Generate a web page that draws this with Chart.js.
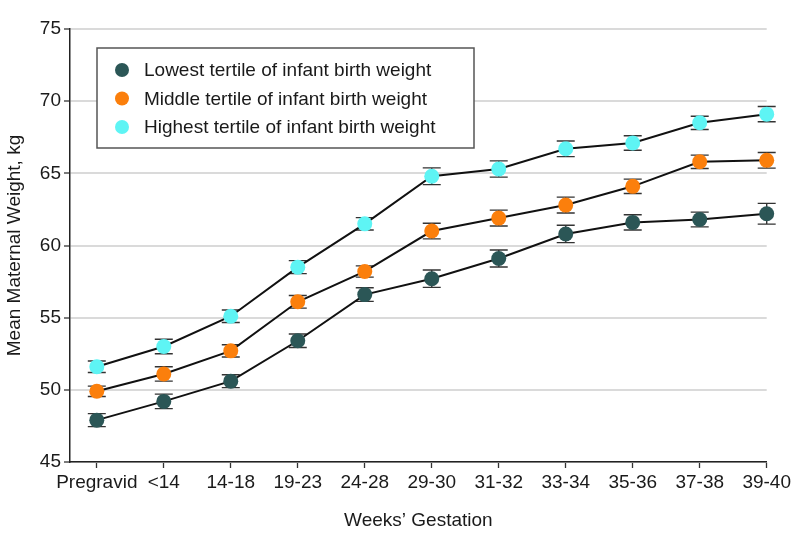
<!DOCTYPE html>
<html>
<head>
<meta charset="utf-8">
<script src="https://cdn.jsdelivr.net/npm/chart.js@4.4.1/dist/chart.umd.min.js"></script>
<style>
  html, body { margin: 0; padding: 0; background: #fff; }
  #wrap { width: 794px; height: 546px; }
</style>
</head>
<body>
<div id="wrap"><canvas id="weightChart" width="794" height="546"></canvas></div>
<script>
// Data
const weekLabels = ["Pregravid", "<14", "14-18", "19-23", "24-28", "29-30", "31-32", "33-34", "35-36", "37-38", "39-40"];
const seriesNames = [
    "Lowest tertile of infant birth weight",
    "Middle tertile of infant birth weight",
    "Highest tertile of infant birth weight"
];
const lowestMeans  = [47.9, 49.2, 50.6, 53.4, 56.6, 57.7, 59.1, 60.8, 61.6, 61.8, 62.2];
const middleMeans  = [49.9, 51.1, 52.7, 56.1, 58.2, 61.0, 61.9, 62.8, 64.1, 65.8, 65.9];
const highestMeans = [51.6, 53.0, 55.1, 58.5, 61.5, 64.8, 65.3, 66.7, 67.1, 68.5, 69.1];
// half-width of the error bars (kg)
const lowestErr  = [0.45, 0.5, 0.45, 0.47, 0.47, 0.6, 0.59, 0.6, 0.53, 0.51, 0.72];
const middleErr  = [0.36, 0.5, 0.42, 0.44, 0.39, 0.54, 0.55, 0.55, 0.5, 0.46, 0.54];
const highestErr = [0.4, 0.5, 0.43, 0.45, 0.43, 0.58, 0.56, 0.54, 0.5, 0.46, 0.53];
const yTicks = [45, 50, 55, 60, 65, 70, 75];

const dotColors = ["#2b5656", "#fb7f0c", "#5ef4f4"];
const FONT = "'Liberation Sans', Arial, sans-serif";
const TEXT = "#1a1a1a";

const toPoints = vals => vals.map((v, i) => ({ x: i, y: v }));

const allMeans = [lowestMeans, middleMeans, highestMeans];
const allErrs = [lowestErr, middleErr, highestErr];

const datasets = allMeans.map((vals, k) => ({
    label: seriesNames[k],
    data: toPoints(vals),
    errors: allErrs[k],
    borderColor: "#111",
    borderWidth: 2,
    pointBackgroundColor: dotColors[k],
    pointBorderWidth: 0,
    pointRadius: 7.5,
    pointHoverRadius: 7.5,
    tension: 0,
    clip: false
}));

// error bars, drawn under the dots
const errorBars = {
    id: "errorBars",
    beforeDatasetsDraw(chart) {
        const { ctx, scales: { x, y } } = chart;
        ctx.save();
        ctx.strokeStyle = "#333";
        ctx.lineWidth = 1.4;
        chart.data.datasets.forEach(ds => {
            ds.data.forEach((p, i) => {
                const px = x.getPixelForValue(p.x);
                const top = y.getPixelForValue(p.y + ds.errors[i]);
                const bot = y.getPixelForValue(p.y - ds.errors[i]);
                ctx.beginPath();
                ctx.moveTo(px, top); ctx.lineTo(px, bot);
                ctx.moveTo(px - 9, top); ctx.lineTo(px + 9, top);
                ctx.moveTo(px - 9, bot); ctx.lineTo(px + 9, bot);
                ctx.stroke();
            });
        });
        ctx.restore();
    }
};

// boxed legend inside the plot, top left
const boxLegend = {
    id: "boxLegend",
    afterDraw(chart) {
        const { ctx, chartArea } = chart;
        const left = chartArea.left + 27, top = chartArea.top + 19;
        const w = 377, h = 100, rowH = 28.5;
        ctx.save();
        ctx.fillStyle = "#fff";
        ctx.fillRect(left, top, w, h);
        ctx.strokeStyle = "#555";
        ctx.lineWidth = 1.5;
        ctx.strokeRect(left, top, w, h);
        ctx.font = "19px " + FONT;
        ctx.textBaseline = "middle";
        chart.data.datasets.forEach((ds, k) => {
            const cy = top + 22 + k * rowH;
            ctx.fillStyle = ds.pointBackgroundColor;
            ctx.beginPath();
            ctx.arc(left + 25, cy, 7, 0, Math.PI * 2);
            ctx.fill();
            ctx.fillStyle = TEXT;
            ctx.fillText(ds.label, left + 47, cy + 1);
        });
        ctx.restore();
    }
};

new Chart("weightChart", {
    type: "line",
    data: { datasets: datasets },
    plugins: [errorBars, boxLegend],
    options: {
        responsive: false,
        animation: false,
        devicePixelRatio: 1,
        layout: { padding: { top: 29, right: 26, bottom: 0, left: 0 } },
        plugins: {
            legend: { display: false },
            tooltip: { enabled: false }
        },
        scales: {
            x: {
                type: "linear",
                min: -0.4,
                max: weekLabels.length - 1,
                afterBuildTicks: s => { s.ticks = weekLabels.map((_, i) => ({ value: i })); },
                afterFit: s => { s.height = 84; },
                ticks: {
                    autoSkip: false,
                    maxRotation: 0,
                    padding: 3,
                    color: TEXT,
                    font: { family: FONT, size: 19 },
                    callback: v => weekLabels[v]
                },
                grid: { drawOnChartArea: false, tickLength: 6, tickColor: "#333", tickWidth: 1.3 },
                border: { color: "#222", width: 1.5 },
                title: {
                    display: true,
                    text: "Weeks\u2019 Gestation",
                    color: TEXT,
                    font: { family: FONT, size: 19 },
                    padding: { top: 0, bottom: 14 }
                }
            },
            y: {
                min: yTicks[0],
                max: yTicks[yTicks.length - 1],
                afterBuildTicks: s => { s.ticks = yTicks.map(v => ({ value: v })); },
                afterFit: s => { s.width = 70; },
                ticks: {
                    padding: 3,
                    color: TEXT,
                    font: { family: FONT, size: 19 }
                },
                grid: { color: "#dadada", lineWidth: 2, tickLength: 6, tickColor: "#333", tickWidth: 1.3 },
                border: { color: "#222", width: 1.5 },
                title: {
                    display: true,
                    text: "Mean Maternal Weight, kg",
                    color: TEXT,
                    font: { family: FONT, size: 19 },
                    padding: { top: 3, bottom: 0 }
                }
            }
        }
    }
});
</script>
</body>
</html>
